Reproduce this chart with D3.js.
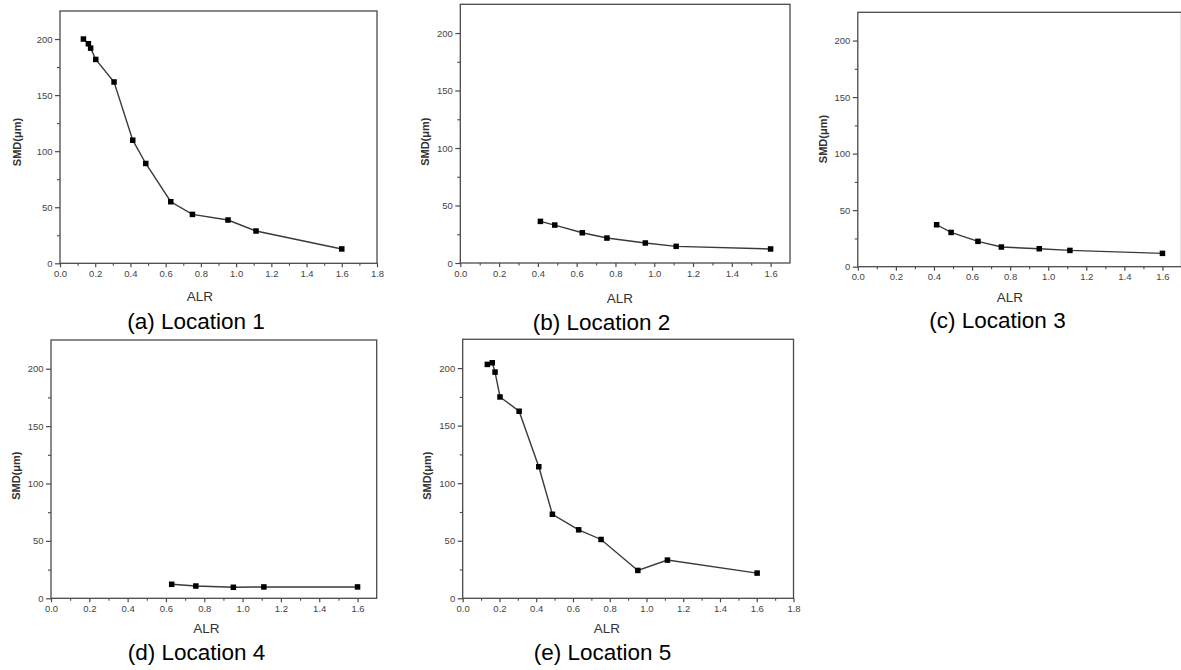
<!DOCTYPE html>
<html><head><meta charset="utf-8">
<script src="https://cdn.jsdelivr.net/npm/d3@7"></script>
<style>
html,body{margin:0;padding:0;background:#fff;}
svg{display:block;font-family:"Liberation Sans",Arial,sans-serif;}
</style></head>
<body>
<svg id="chart" width="1181" height="670"></svg>
<script>
// ---- data ----
const alr1 = [0.133,0.161,0.174,0.203,0.307,0.413,0.487,0.629,0.752,0.954,1.113,1.6];
const smd1 = [200,195.8,191.9,181.8,161.7,109.8,89,54.9,43.6,38.6,28.8,12.8];
const alr2 = [0.413,0.487,0.629,0.756,0.954,1.113,1.6];
const smd2 = [36.2,33.0,26.3,21.7,17.4,14.5,12.2];
const alr3 = [0.414,0.490,0.631,0.754,0.953,1.114,1.6];
const smd3 = [37.1,30.3,22.4,17.4,15.9,14.4,11.8];
const alr4 = [0.630,0.756,0.952,1.111,1.6];
const smd4 = [12.2,10.7,9.6,9.9,9.9];
const alr5 = [0.134,0.161,0.176,0.203,0.307,0.414,0.488,0.631,0.753,0.953,1.114,1.602];
const smd5 = [203.2,204.6,196.5,174.9,162.5,114.3,73.0,59.5,51.1,24.2,33.2,21.9];
const subtitles = ["(a) Location 1","(b) Location 2","(c) Location 3","(d) Location 4","(e) Location 5"];
const yTicks = [0,50,100,150,200];
const yMinorTicks = [25,75,125,175];
const xTicks18 = [0,0.2,0.4,0.6,0.8,1.0,1.2,1.4,1.6,1.8];
const xTicks16 = [0,0.2,0.4,0.6,0.8,1.0,1.2,1.4,1.6];
const xMinorTicks = [0.1,0.3,0.5,0.7,0.9,1.1,1.3,1.5,1.7];
const xLabel = "ALR";
const yLabel = "SMD(\u03bcm)";

// ---- layout ----
const layout = [
  {alr:alr1, smd:smd1, xMax:1.8, ticks:xTicks18, l:60,    r:377,   t:11,    b:263.3, subX:196,   subY:329, alrX:200, alrY:300.7, smdX:17,    smdY:142},
  {alr:alr2, smd:smd2, xMax:1.7, ticks:xTicks16, l:460.3, r:790,   t:4.3,   b:263,   subX:601.5, subY:330, alrX:620, alrY:303,   smdX:425,   smdY:141.7},
  {alr:alr3, smd:smd3, xMax:1.7, ticks:xTicks16, l:857.8, r:1181.5,t:12.3,  b:266.7, subX:997.5, subY:328.3,alrX:1010,alrY:301.7, smdX:823.3, smdY:139},
  {alr:alr4, smd:smd4, xMax:1.7, ticks:xTicks16, l:51,    r:376.7, t:340,   b:598.3, subX:196.5, subY:660, alrX:206.5,alrY:633.3, smdX:16,    smdY:475.7},
  {alr:alr5, smd:smd5, xMax:1.8, ticks:xTicks18, l:462.7, r:793.5, t:339.3, b:598.3, subX:602.5, subY:660, alrX:607, alrY:633.3, smdX:426.7, smdY:475.7}
];

const svg = d3.select("#chart");
const axisColor = "#4a4a4a";

layout.forEach((p, i) => {
  const x = d3.scaleLinear().domain([0, p.xMax]).range([p.l, p.r]);
  const y = d3.scaleLinear().domain([0, 225]).range([p.b, p.t]);
  const g = svg.append("g");

  // minor ticks
  const xMin = d3.axisBottom(x).tickValues(xMinorTicks.filter(v => v < p.xMax)).tickSize(2.5).tickFormat("");
  const yMin = d3.axisLeft(y).tickValues(yMinorTicks).tickSize(3).tickFormat("");
  g.append("g").attr("transform", `translate(0,${p.b})`).call(xMin)
    .call(s => s.select(".domain").remove())
    .selectAll("line").attr("stroke", axisColor).attr("stroke-width", 1.1);
  g.append("g").attr("transform", `translate(${p.l},0)`).call(yMin)
    .call(s => s.select(".domain").remove())
    .selectAll("line").attr("stroke", axisColor).attr("stroke-width", 1.1);

  // major axes
  const xAx = d3.axisBottom(x).tickValues(p.ticks).tickSize(4).tickPadding(3).tickFormat(d3.format(".1f"));
  const yAx = d3.axisLeft(y).tickValues(yTicks).tickSize(5).tickPadding(2.5).tickFormat(d3.format("d"));
  const gx = g.append("g").attr("transform", `translate(0,${p.b})`).call(xAx);
  const gy = g.append("g").attr("transform", `translate(${p.l},0)`).call(yAx);
  [gx, gy].forEach(a => {
    a.select(".domain").remove();
    a.selectAll("line").attr("stroke", axisColor).attr("stroke-width", 1.2);
    a.selectAll("text").attr("fill", "#444").attr("font-size", 9.5);
  });

  // frame
  g.append("rect").attr("x", p.l).attr("y", p.t).attr("width", p.r - p.l).attr("height", p.b - p.t)
    .attr("fill", "none").attr("stroke", axisColor).attr("stroke-width", 1.3);

  // line
  const pts = p.alr.map((a, k) => [a, p.smd[k]]);
  g.append("path").datum(pts)
    .attr("d", d3.line().x(d => x(d[0])).y(d => y(d[1])))
    .attr("fill", "none").attr("stroke", "#3a3a3a").attr("stroke-width", 1.4);
  const ms = 5.5;
  g.selectAll("rect.m").data(pts).enter().append("rect").attr("class", "m")
    .attr("x", d => x(d[0]) - ms / 2).attr("y", d => y(d[1]) - ms / 2)
    .attr("width", ms).attr("height", ms).attr("fill", "#000");

  // axis titles
  g.append("text").attr("x", p.alrX).attr("y", p.alrY).attr("text-anchor", "middle")
    .attr("font-size", 13.5).attr("fill", "#333").text(xLabel);
  g.append("text").attr("transform", `translate(${p.smdX + 4},${p.smdY}) rotate(-90)`)
    .attr("text-anchor", "middle").attr("font-size", 11).attr("font-weight", "bold")
    .attr("fill", "#333").text(yLabel);

  // subtitle
  g.append("text").attr("x", p.subX).attr("y", p.subY).attr("text-anchor", "middle")
    .attr("font-size", 22.5).attr("fill", "#000").text(subtitles[i]);
});
</script>
</body></html>
